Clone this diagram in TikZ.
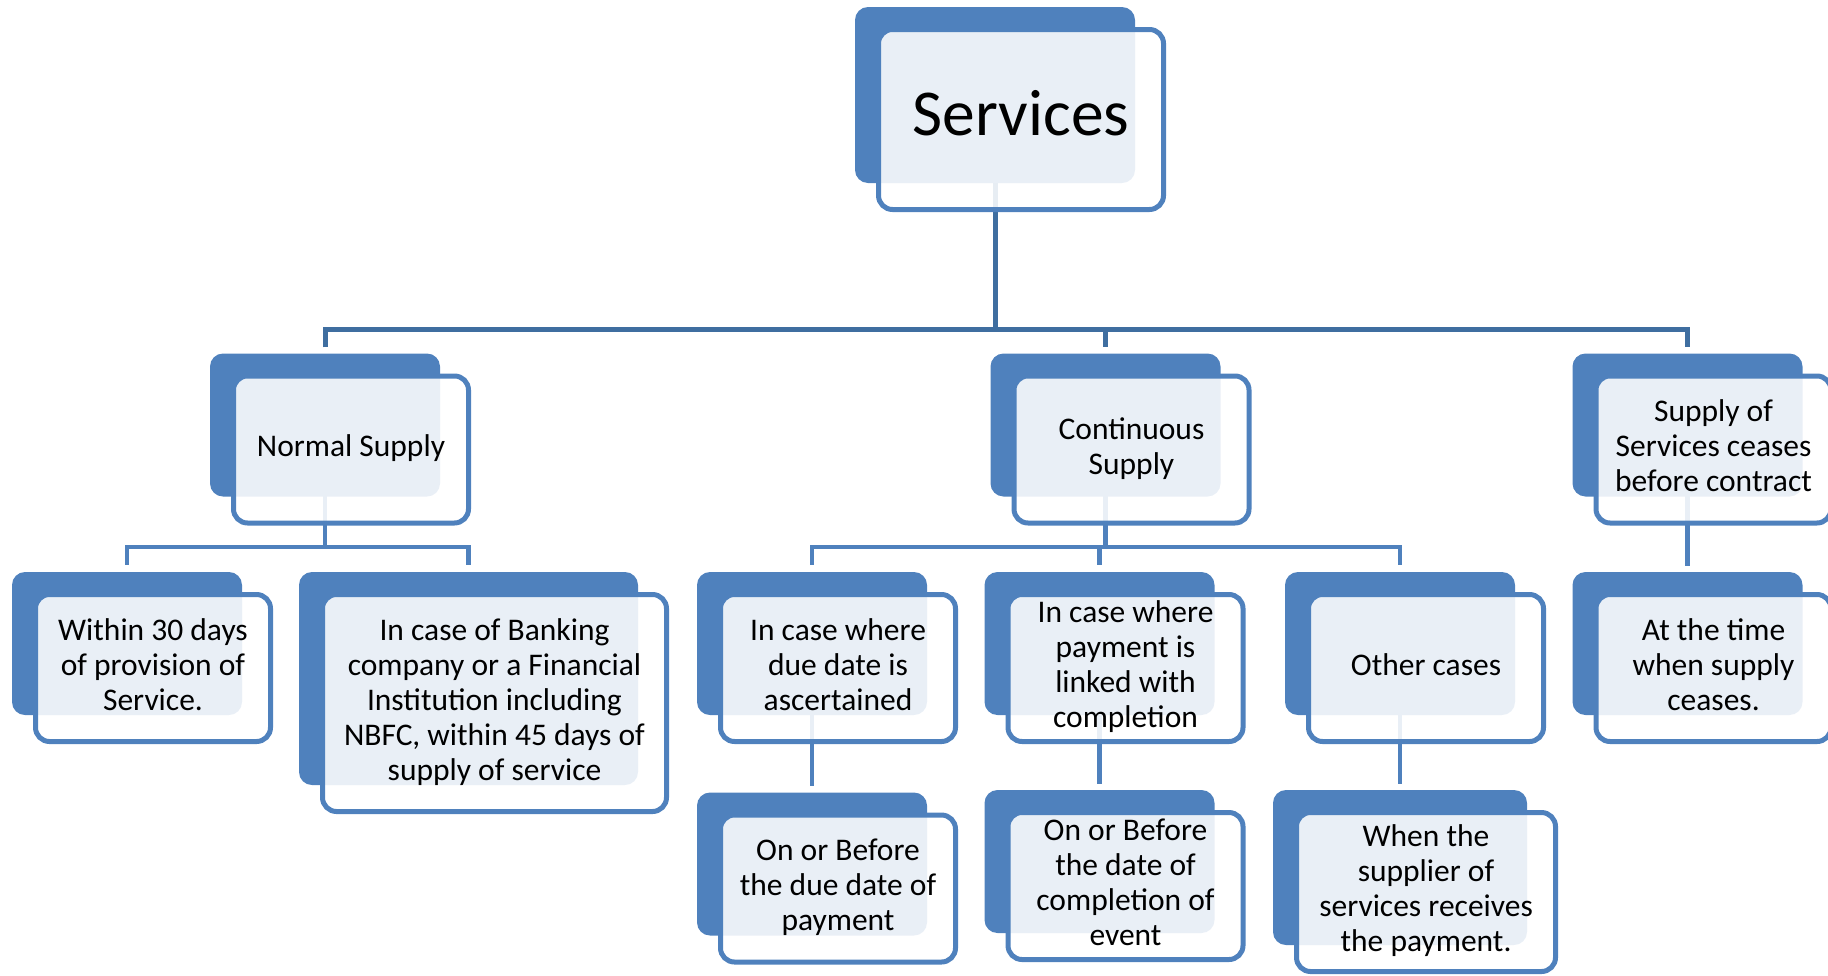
\documentclass[tikz,border=0pt]{standalone}
\usepackage{fontspec}
\setmainfont{Carlito}
\usepackage{tikz}
\definecolor{boxblue}{RGB}{79,129,189}
\definecolor{topblue}{RGB}{63,110,160}
\pgfdeclarelayer{background}
\pgfsetlayers{background,main}

\begin{document}
\begin{tikzpicture}[x=1pt,y=-1pt,
  backbox/.style={fill=boxblue, rounded corners=13pt, inner sep=0pt,
    minimum width=230pt, minimum height=143pt},
  frontbox/.style={draw=boxblue, line width=5pt, fill=white, fill opacity=0.88,
    text opacity=1, rounded corners=14pt, inner sep=0pt, align=center,
    minimum width=235pt, minimum height=147pt,
    font=\fontsize{31.5}{35}\selectfont},
  topline/.style={draw=topblue, line width=5pt},
  subline/.style={draw=boxblue, line width=4.5pt}]
  \useasboundingbox (0,0) rectangle (1828,975);

  % Top box
  \node[backbox, minimum width=280pt, minimum height=176pt] (services-b) at (995,95) {};
  \node[frontbox, minimum width=285pt, minimum height=180pt,
    font=\fontsize{65.5}{79}\selectfont] (services)
    at ([xshift=26pt,yshift=-24.5pt]services-b.center) {\strut Services\strut};

  % First level
  \node[backbox] (normal-b) at (325,425) {};
  \node[frontbox] (normal) at ([xshift=26pt,yshift=-24.5pt]normal-b.center)
    {\strut Normal Supply\strut};
  \node[backbox] (cont-b) at (1105.5,425) {};
  \node[frontbox] (cont) at ([xshift=26pt,yshift=-24.5pt]cont-b.center)
    {\strut Continuous\\Supply\strut};
  \node[backbox] (cease-b) at (1687.5,425) {};
  \node[frontbox] (cease) at ([xshift=26pt,yshift=-24.5pt]cease-b.center)
    {\strut Supply of\\Services ceases\\before contract\strut};

  % Second level
  \node[backbox] (within-b) at (127,643.5) {};
  \node[frontbox] (within) at ([xshift=26pt,yshift=-24.5pt]within-b.center)
    {\strut Within 30 days\\of provision of\\Service.\strut};
  \node[backbox, minimum width=339pt, minimum height=213pt] (bank-b) at (468.5,678.5) {};
  \node[frontbox, minimum width=344pt, minimum height=217pt] (bank)
    at ([xshift=26pt,yshift=-24.5pt]bank-b.center)
    {\strut In case of Banking\\company or a Financial\\Institution including\\NBFC, within 45 days of\\supply of service\strut};
  \node[backbox] (due-b) at (812,643.5) {};
  \node[frontbox] (due) at ([xshift=26pt,yshift=-24.5pt]due-b.center)
    {\strut In case where\\due date is\\ascertained\strut};
  \node[backbox] (linked-b) at (1099.5,643.5) {};
  \node[frontbox] (linked) at ([xshift=26pt,yshift=-24.5pt]linked-b.center)
    {\strut In case where\\payment is\\linked with\\completion\strut};
  \node[backbox] (other-b) at (1400,643.5) {};
  \node[frontbox] (other) at ([xshift=26pt,yshift=-24.5pt]other-b.center)
    {\strut Other cases\strut};
  \node[backbox] (attime-b) at (1687.5,643.5) {};
  \node[frontbox] (attime) at ([xshift=26pt,yshift=-24.5pt]attime-b.center)
    {\strut At the time\\when supply\\ceases.\strut};

  % Third level
  \node[backbox] (beforedue-b) at (812,864) {};
  \node[frontbox] (beforedue) at ([xshift=26pt,yshift=-24.5pt]beforedue-b.center)
    {\strut On or Before\\the due date of\\payment\strut};
  \node[backbox] (beforecomp-b) at (1099.5,861.5) {};
  \node[frontbox] (beforecomp) at ([xshift=26pt,yshift=-24.5pt]beforecomp-b.center)
    {\strut On or Before\\the date of\\completion of\\event\strut};
  \node[backbox, minimum width=254pt, minimum height=155pt] (supplier-b) at (1400,867.5) {};
  \node[frontbox, minimum width=259pt, minimum height=159pt] (supplier)
    at ([xshift=26pt,yshift=-24.5pt]supplier-b.center)
    {\strut When the\\supplier of\\services receives\\the payment.\strut};

  % Connectors, behind the boxes
  \begin{pgfonlayer}{background}
    \coordinate (bar1) at (0,329);
    \coordinate (bar2) at (0,547);
    \draw[topline] (services-b.center) -- (services-b.center |- bar1);
    \draw[topline] ([yshift=6pt]normal-b.north) -- (normal-b.north |- bar1)
      -- (cease-b.north |- bar1) -- ([yshift=6pt]cease-b.north);
    \draw[topline] (cont-b.north |- bar1) -- ([yshift=6pt]cont-b.north);

    \draw[subline] (normal-b.center) -- (normal-b.center |- bar2);
    \draw[subline] ([yshift=7pt]within-b.north) -- (within-b.north |- bar2)
      -- (bank-b.north |- bar2) -- ([yshift=7pt]bank-b.north);
    \draw[subline] (cont-b.center) -- (cont-b.center |- bar2);
    \draw[subline] ([yshift=7pt]due-b.north) -- (due-b.north |- bar2)
      -- (other-b.north |- bar2) -- ([yshift=7pt]other-b.north);
    \draw[subline] (linked-b.north |- bar2) -- ([yshift=7pt]linked-b.north);
    \draw[subline] (cease-b.center) -- ([yshift=6pt]attime-b.north);

    \draw[subline] (due-b.center) -- ([yshift=6pt]beforedue-b.north);
    \draw[subline] (linked-b.center) -- ([yshift=6pt]beforecomp-b.north);
    \draw[subline] (other-b.center) -- ([yshift=6pt]supplier-b.north);
  \end{pgfonlayer}
\end{tikzpicture}
\end{document}
